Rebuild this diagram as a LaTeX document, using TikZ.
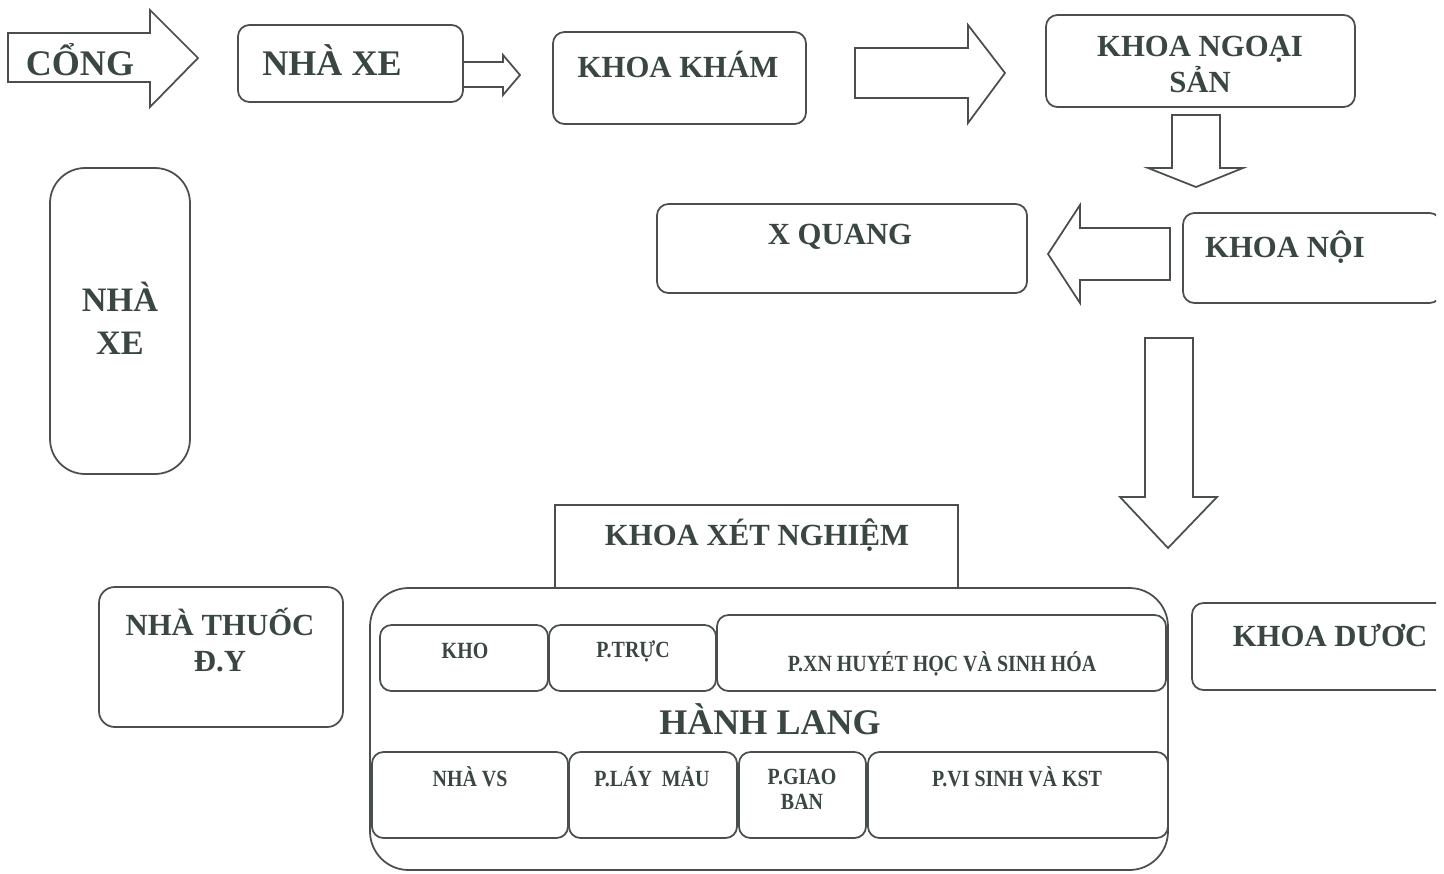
\documentclass[tikz,border=0pt]{standalone}
\usepackage{fontspec}
\setmainfont{Liberation Serif}
\newfontfamily\narrowserif[FakeStretch=0.86]{Liberation Serif}
\usetikzlibrary{fit}
\definecolor{inkline}{HTML}{4A4F4C}
\definecolor{inktext}{HTML}{3A4641}

\begin{document}
\begin{tikzpicture}[
  x=0.02cm, y=-0.02cm,
  every node/.style={font=\bfseries, text=inktext},
  room/.style={draw=inkline, line width=1pt, rounded corners=6.5pt, inner sep=0pt},
  bigroom/.style={room, rounded corners=22pt},
  plainroom/.style={room, sharp corners},
  blockarrow/.style={draw=inkline, line width=1pt, line join=miter},
  hugetxt/.style={font=\fontsize{20.5}{24.5}\selectfont\bfseries, align=center},
  bigtxt/.style={font=\fontsize{17.5}{20.5}\selectfont\bfseries, align=center},
  smalltxt/.style={font=\narrowserif\fontsize{13.2}{14.5}\selectfont\bfseries, align=center}
]
  \useasboundingbox (0,0) rectangle (1444,873);

  % Top row: gate to outpatient
  \draw[blockarrow] (8,33) -- (150,33) -- (150,10) -- (198,58) -- (150,107)
    -- (150,82) -- (8,82) -- cycle;
  \node[hugetxt] (cong) at (80,60) {CỔNG};

  \node[room, fit={(238,25) (463,102)}] (nhaxe) {};
  \node[hugetxt] at (332,60) {NHÀ XE};
  \draw[blockarrow] (463,62) -- (503,62) -- (503,55) -- (520,75) -- (503,95)
    -- (503,87) -- (463,87);

  \node[room, fit={(553,32) (806,124)}] (kham) {};
  \node[bigtxt] at (678,64) {KHOA KHÁM};
  \draw[blockarrow] (855,48) -- (968,48) -- (968,25) -- (1005,73) -- (968,123)
    -- (968,98) -- (855,98) -- cycle;

  \node[room, fit={(1046,15) (1355,107)}] (ngoaisan) {};
  \node[bigtxt] at (1200,64.5) {KHOA NGOẠI\\SẢN};
  \draw[blockarrow] (1172,115) -- (1172,168) -- (1148,168) -- (1196,187)
    -- (1243,168) -- (1220,168) -- (1220,115) -- cycle;

  % Second row
  \begin{scope}
    \clip (0,0) rectangle (1436,873);
    \node[room, fit={(1183,213) (1441,303)}] (noi) {};
    \node[room, fit={(1192,603) (1470,690)}] (duoc) {};
  \end{scope}
  \node[bigtxt] at (1285,247) {KHOA NỘI};
  \node[bigtxt] at (1330,636) {KHOA DƯƠC};

  \draw[blockarrow] (1170,228) -- (1080,228) -- (1080,205) -- (1048,254)
    -- (1080,303) -- (1080,280) -- (1170,280) -- cycle;
  \node[room, fit={(657,204) (1027,293)}] (xquang) {};
  \node[bigtxt] at (840,237) {X QUANG};

  \node[bigroom, rounded corners=20pt, fit={(50,168) (190,474)}] (nhaxe2) {};
  \node[hugetxt, font=\fontsize{19.5}{24.5}\selectfont\bfseries] at (120,318.5) {NHÀ\\XE};

  \draw[blockarrow] (1145,338) -- (1193,338) -- (1193,497) -- (1217,497)
    -- (1168,548) -- (1120,497) -- (1145,497) -- cycle;

  % Laboratory block
  \node[plainroom, fit={(555,505) (958,588)}] (xetnghiem) {};
  \node[bigtxt] at (757,535) {KHOA XÉT NGHIỆM};
  \node[bigroom, fit={(370,588) (1168,870)}] (khoi) {};

  \node[room, fit={(380,625) (548,691)}] (kho) {};
  \node[room, fit={(549,625) (716,691)}] (truc) {};
  \node[room, fit={(717,615) (1166,691)}] (huyethoc) {};
  \node[smalltxt] at (465,651) {KHO};
  \node[smalltxt] at (633,651) {P.TRỰC};
  \node[smalltxt] at (942,664) {P.XN HUYÉT HỌC VÀ SINH HÓA};

  \node[hugetxt] (hanhlang) at (770,719) {HÀNH LANG};

  \node[room, fit={(372,752) (568,838)}] (nhavs) {};
  \node[room, fit={(569,752) (737,838)}] (laymau) {};
  \node[room, fit={(739,752) (866,838)}] (giaoban) {};
  \node[room, fit={(868,752) (1168,838)}] (visinh) {};
  \node[smalltxt] at (470,777) {NHÀ VS};
  \node[smalltxt] at (652,777) {P.LÁY\ \ MẢU};
  \node[smalltxt] at (802,789.5) {P.GIAO\\BAN};
  \node[smalltxt] at (1017,777) {P.VI SINH VÀ KST};

  % Pharmacy
  \node[room, rounded corners=9pt, fit={(99,587) (343,727)}] (nhathuoc) {};
  \node[bigtxt] at (220,640) {NHÀ THUỐC\\Đ.Y};
\end{tikzpicture}
\end{document}
